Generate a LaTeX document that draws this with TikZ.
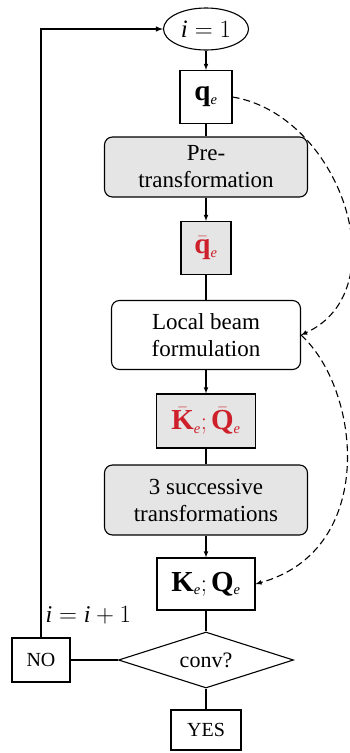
\documentclass[tikz,border=0pt]{standalone}
\usepackage{fontspec}
\setmainfont{Liberation Serif}
\usetikzlibrary{shapes.geometric}
\definecolor{vecred}{RGB}{205,32,42}
\newcommand{\elm}{_{\scriptscriptstyle\mathit{e}}}
\begin{document}
\begin{tikzpicture}[x=1pt, y=1pt, >=latex, line width=1.1pt,
	every node/.style={draw, inner sep=0pt, align=center, font=\fontsize{23}{27}\selectfont},
	startnode/.style={ellipse, minimum width=85pt, minimum height=42pt, font=\fontsize{25}{28}\selectfont},
	vecbox/.style={rectangle, minimum height=53pt, font=\fontsize{29}{30}\selectfont},
	stepbox/.style={rectangle, rounded corners=8pt, minimum width=203pt},
	decision/.style={diamond, aspect=3.1, minimum width=175pt, minimum height=56pt, font=\fontsize{22}{24}\selectfont},
	answer/.style={rectangle, font=\fontsize{20}{22}\selectfont}]
	\useasboundingbox (0,0) rectangle (350,-753);
	\node[startnode] (start) at (206,-29) {$\mathit{i}=1$};
	\node[vecbox, minimum width=52pt] (qe) [node distance=68pt, below of=start] {$\mathbf{q}\elm$};
	\node[stepbox, fill=gray!20, minimum height=60pt] (pre) [node distance=70pt, below of=qe] {Pre-\\transformation};
	\node[vecbox, minimum width=50pt, fill=gray!20, text=vecred] (qbar) [node distance=81pt, below of=pre] {$\bar{\mathbf{q}}\elm$};
	\node[stepbox, fill=white, minimum width=189pt, minimum height=69pt] (local) [node distance=87pt, below of=qbar] {Local beam\\formulation};
	\node[vecbox, minimum width=99pt, minimum height=54pt, fill=gray!20, text=vecred] (kbar) [node distance=86pt, below of=local] {$\bar{\mathbf{K}}\elm;\bar{\mathbf{Q}}\elm$};
	\node[stepbox, fill=gray!20, minimum height=70pt] (succ) [node distance=79pt, below of=kbar] {3 successive\\transformations};
	\node[vecbox, minimum width=98pt, minimum height=52pt] (kq) [node distance=84pt, below of=succ] {$\mathbf{K}\elm;\mathbf{Q}\elm$};
	\node[decision] (conv) [node distance=76pt, below of=kq] {conv?};
	\node[answer, minimum width=70pt, minimum height=40pt] (yes) [node distance=70pt, below of=conv] {YES};
	\node[answer, minimum width=58pt, minimum height=44pt] (no) [node distance=165pt, left of=conv] {NO};
	\node[draw=none, anchor=base west, font=\fontsize{24}{26}\selectfont] (inc) at ([xshift=4pt, yshift=15pt]no.north) {$\mathit{i}=\mathit{i}+1$};
	
	% Arrows
	\draw[->] (start) -- (qe);
	\draw (qe) -- (pre);
	\draw[->] (pre) -- (qbar);
	\draw (qbar) -- (local);
	\draw[->] (local) -- (kbar);
	\draw (kbar) -- (succ);
	\draw[->] (succ) -- (kq);
	\draw (kq) -- (conv);
	\draw (conv) -- (yes);
	\draw (conv) -- (no);
	\draw[->, line width=1.4pt] (no) |- (start);
	
	% Dashed links
	\draw[->, dash pattern=on 7pt off 4pt] (qe.east) .. controls +(108,-18) and +(98,45) .. (local.east);
	\draw[->, dash pattern=on 7pt off 4pt] (local.east) .. controls +(60,-55) and +(122,34) .. (kq.east);
\end{tikzpicture}
\end{document}
